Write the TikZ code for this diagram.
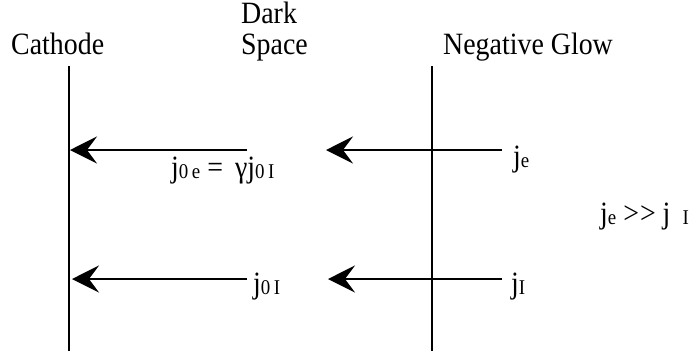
\documentclass[tikz,border=0pt]{standalone}
\usepackage{fontspec}
\setmainfont{Liberation Serif}[FakeStretch=0.9]
\usetikzlibrary{arrows.meta}
\newcommand{\sbs}[1]{\raisebox{-1.5pt}{\fontsize{21}{23}\selectfont #1}}
\begin{document}
\begin{tikzpicture}[x=1pt,y=-1pt,
  lbl/.style={font=\fontsize{31}{33}\selectfont, inner sep=0pt},
  wall/.style={line width=1.8pt},
  flux/.style={line width=1.8pt, -{Stealth[length=27pt,width=27pt,inset=10pt]}}]
\useasboundingbox (0,0) rectangle (693,351);
% walls
\coordinate (ctop) at (69,66);
\coordinate (cbot) at (69,351);
\coordinate (gtop) at (432,66);
\coordinate (gbot) at (432,351);
\draw[wall] (ctop) -- (cbot);
\draw[wall] (gtop) -- (gbot);
% headers
\node[lbl, anchor=base west] (cath) at (11,54) {Cathode};
\node[lbl, anchor=base west] (dark) at (241,23) {Dark};
\node[lbl, anchor=base west] (space) at (241,54) {Space};
\node[lbl, anchor=base west] (glow) at (443,54) {Negative Glow};
% arrow ends
\coordinate (a1s) at (247,150);
\coordinate (a1e) at (70,150);
\coordinate (a2s) at (502,150);
\coordinate (a2e) at (326,150);
\coordinate (b1s) at (247,279);
\coordinate (b1e) at (72,279);
\coordinate (b2s) at (502,279);
\coordinate (b2e) at (328,279);
\draw[flux] (a1s) -- (a1e);
\draw[flux] (a2s) -- (a2e);
\draw[flux] (b1s) -- (b1e);
\draw[flux] (b2s) -- (b2e);
% labels
\node[lbl, anchor=base west] (je) at (513,166) {j\sbs{e}};
\node[lbl, anchor=base west] (jeq) at (171,177) {j\sbs{0\,e} =\, γj\sbs{0\,I}};
\node[lbl, anchor=base west] (jrel) at (600,223) {j\sbs{e} >\kern1pt> j\, \sbs{I}};
\node[lbl, anchor=base west] (j0i) at (253,293) {j\sbs{0\,I}};
\node[lbl, anchor=base west] (ji) at (511,293) {j\sbs{I}};
\end{tikzpicture}
\end{document}
